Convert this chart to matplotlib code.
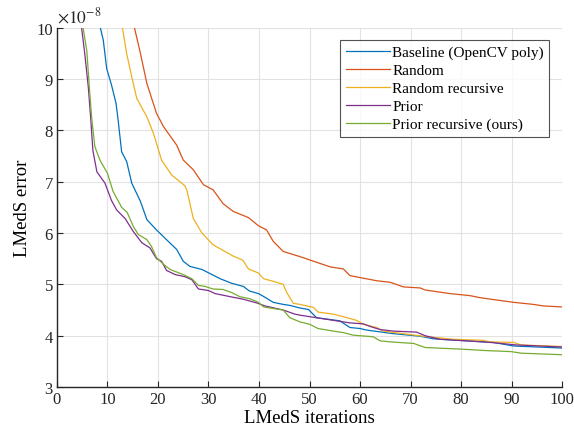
import numpy as np
import matplotlib
matplotlib.use('Agg')
import matplotlib.pyplot as plt

plt.rcParams['font.family'] = ['Liberation Serif', 'DejaVu Serif']
plt.rcParams['mathtext.fontset'] = 'stix'

# LMedS error, in units of 1e-8
base_x = [1, 8.65, 9.17, 9.84, 10.8, 11.7, 12.1, 12.8, 13.8, 14.8, 16.5, 17.8, 19.7, 22.0, 23.7,
          25.0, 26.3, 28.7, 30.3, 32.3, 34.6, 36.9, 38.1, 39.9, 41.5, 42.8, 44.8, 46.1, 48.1,
          49.8, 51.4, 56.0, 58.0, 60, 61.3, 66.6, 71.9, 74.5, 81.1, 86.4, 90.4, 100]
base_y = [14, 9.97, 9.75, 9.2, 8.88, 8.52, 8.2, 7.58, 7.39, 6.97, 6.62, 6.26, 6.06, 5.84, 5.68,
          5.45, 5.35, 5.29, 5.21, 5.11, 5.02, 4.96, 4.87, 4.82, 4.73, 4.65, 4.61, 4.59, 4.54,
          4.51, 4.35, 4.29, 4.16, 4.14, 4.11, 4.04, 3.99, 3.94, 3.90, 3.87, 3.80, 3.76]

rand_x = [1, 15.4, 16.4, 17.8, 19.7, 21.1, 23.7, 25.0, 27.0, 29.0, 30.9, 32.9, 34.9, 37.9, 39.9,
          41.5, 42.8, 44.8, 48.1, 50.8, 54.1, 56.7, 58.0, 63.3, 66.0, 68.6, 71.9, 72.9, 77.8,
          81.8, 83.8, 90.4, 94.3, 96.3, 100]
rand_y = [16, 9.97, 9.55, 8.91, 8.33, 8.07, 7.71, 7.42, 7.23, 6.94, 6.84, 6.57, 6.42, 6.30, 6.14,
          6.06, 5.84, 5.64, 5.54, 5.45, 5.34, 5.30, 5.17, 5.07, 5.04, 4.95, 4.93, 4.89, 4.82,
          4.78, 4.74, 4.65, 4.61, 4.58, 4.56]

randrec_x = [1, 13.0, 13.8, 14.8, 15.8, 17.8, 19.1, 20.7, 22.7, 25.3, 25.7, 27.0, 28.7, 30.9,
             32.9, 34.9, 36.8, 37.9, 39.9, 40.9, 42.8, 44.8, 45.5, 46.8, 48.1, 50.8, 51.7, 54.7,
             56.7, 59.3, 60.7, 63.3, 64.6, 72.5, 78.5, 84.4, 85.7, 90.4, 91.9, 100]
randrec_y = [15, 9.97, 9.49, 9.04, 8.62, 8.26, 7.94, 7.42, 7.13, 6.92, 6.84, 6.28, 6.0, 5.77,
             5.66, 5.55, 5.47, 5.30, 5.22, 5.11, 5.06, 5.0, 4.84, 4.63, 4.61, 4.55, 4.46, 4.42,
             4.37, 4.30, 4.22, 4.16, 4.09, 3.99, 3.93, 3.91, 3.88, 3.87, 3.82, 3.79]

prior_x = [1, 4.9, 5.5, 6.2, 6.7, 7.1, 7.9, 9.5, 10.8, 11.8, 13.5, 15.1, 16.8, 18.4, 19.7, 20.7,
           21.7, 23.4, 25.3, 26.7, 28.0, 30.0, 31.3, 34.3, 36.9, 39.5, 41.2, 44.8, 47.1, 48.1,
           51.4, 54.7, 58, 60.7, 62, 64, 66.6, 71.2, 72.9, 75.8, 81.1, 85.7, 91, 100]
prior_y = [13, 9.97, 9.49, 8.84, 8.2, 7.61, 7.19, 6.97, 6.63, 6.45, 6.28, 6.03, 5.81, 5.71, 5.50,
           5.45, 5.27, 5.19, 5.15, 5.09, 4.91, 4.88, 4.82, 4.76, 4.71, 4.64, 4.58, 4.50, 4.42,
           4.40, 4.35, 4.30, 4.25, 4.23, 4.18, 4.12, 4.09, 4.07, 4.0, 3.93, 3.90, 3.87, 3.82, 3.78]

priorrec_x = [1, 5.2, 5.9, 6.4, 6.9, 7.5, 8.5, 10, 11.1, 12.8, 13.9, 15.1, 16.1, 17.8, 18.7, 19.7,
              21.1, 22.4, 25, 26.7, 28, 29.3, 30.9, 32.9, 34.6, 36.2, 38.2, 39.9, 40.9, 42.8, 44.8,
              46.1, 48.1, 50.1, 51.7, 54.7, 56.7, 58.7, 62.6, 64, 66, 70.6, 72.9, 79.8, 85.1, 90,
              91.9, 100]
priorrec_y = [13, 9.97, 9.55, 8.84, 8.2, 7.68, 7.42, 7.16, 6.81, 6.50, 6.40, 6.13, 5.97, 5.87, 5.74,
              5.52, 5.39, 5.29, 5.19, 5.11, 4.98, 4.96, 4.91, 4.90, 4.84, 4.76, 4.72, 4.65, 4.56,
              4.53, 4.50, 4.35, 4.27, 4.22, 4.14, 4.09, 4.06, 4.01, 3.98, 3.90, 3.88, 3.85, 3.77,
              3.74, 3.71, 3.69, 3.66, 3.63]

labels = ['Baseline (OpenCV poly)', 'Random', 'Random recursive', 'Prior', 'Prior recursive (ours)']
colors = ['#0072BD', '#D95319', '#EDB120', '#7E2F8E', '#77AC30']

fig = plt.figure(figsize=(5.74, 4.39), dpi=100)
ax = fig.add_axes([0.0993, 0.116, 0.8798, 0.819])

series = [(base_x, base_y), (rand_x, rand_y), (randrec_x, randrec_y),
          (prior_x, prior_y), (priorrec_x, priorrec_y)]
for (xs, ys), lab, c in zip(series, labels, colors):
    ax.plot(xs, ys, color=c, lw=0.9, label=lab)

ax.set_xlim(0, 100)
ax.set_ylim(3, 10)
ax.set_xticks(np.arange(0, 101, 10))
ax.set_yticks(np.arange(3, 11, 1))
ax.grid(True, color='#e2e2e2', lw=0.8)
ax.set_axisbelow(True)
for s in ['top', 'right']:
    ax.spines[s].set_visible(False)
for s in ['left', 'bottom']:
    ax.spines[s].set_color('#262626')
    ax.spines[s].set_linewidth(1.0)
ax.tick_params(direction='in', length=4, labelsize=12, colors='#262626', pad=3)

ax.set_xlabel('LMedS iterations', fontsize=13.5, labelpad=1)
ax.set_ylabel('LMedS error', fontsize=13.5, labelpad=4)
ax.text(0.0, 1.003, r'$\times10^{-8}$', transform=ax.transAxes, fontsize=12.5,
        ha='left', va='bottom', color='#262626')

leg = ax.legend(loc='upper right', bbox_to_anchor=(0.975, 0.965), fontsize=11,
                frameon=True, fancybox=False, edgecolor='#262626', handlelength=2.9,
                handletextpad=0.15, borderpad=0.35, labelspacing=0.28, borderaxespad=0)
leg.get_frame().set_linewidth(0.8)

fig.savefig('out.png', dpi=100)
